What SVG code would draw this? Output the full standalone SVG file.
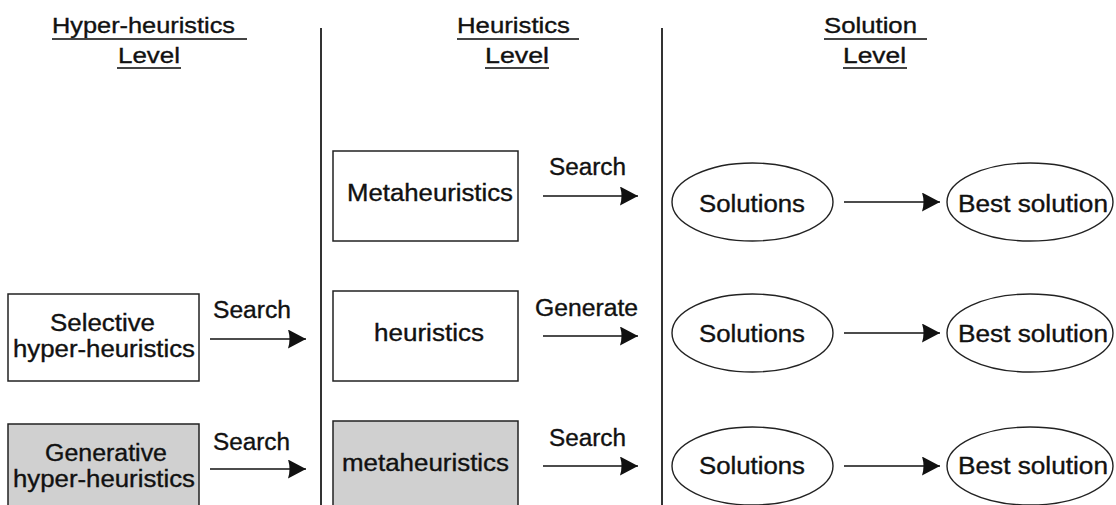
<svg xmlns="http://www.w3.org/2000/svg" width="1116" height="505" viewBox="0 0 1116 505">
<style>
text{font-family:"Liberation Sans",Arial,sans-serif;font-size:23px;fill:#111;stroke:#111;stroke-width:0.35}
.h{font-size:22px}
.box{fill:#fff;stroke:#222;stroke-width:1.5}
.gray{fill:#d0d0d0}
.ell{fill:#fff;stroke:#222;stroke-width:1.4}
.arr{stroke:#111;stroke-width:1.6;fill:none;marker-end:url(#ah)}
.ul{stroke:#444;stroke-width:2}
.sep{stroke:#333;stroke-width:2}
</style>
<defs>
<marker id="ah" viewBox="0 0 18 19" refX="18" refY="9.5" markerWidth="18" markerHeight="19" markerUnits="userSpaceOnUse" orient="auto">
<path d="M0,0 L18,9.5 L0,19 Q3,9.5 0,0 Z" fill="#111"/>
</marker>
</defs>
<rect width="1116" height="505" fill="#fff"/>
<g id="headers">
<text class="h" x="52" y="33" textLength="183" lengthAdjust="spacingAndGlyphs">Hyper-heuristics</text>
<text class="h" x="118" y="63" textLength="62" lengthAdjust="spacingAndGlyphs">Level</text>
<text class="h" x="457" y="33" textLength="113" lengthAdjust="spacingAndGlyphs">Heuristics</text>
<text class="h" x="485" y="63" textLength="64" lengthAdjust="spacingAndGlyphs">Level</text>
<text class="h" x="824" y="33" textLength="93" lengthAdjust="spacingAndGlyphs">Solution</text>
<text class="h" x="843" y="63" textLength="63" lengthAdjust="spacingAndGlyphs">Level</text>
<line class="ul" x1="52" y1="39" x2="247" y2="39"/>
<line class="ul" x1="117" y1="68" x2="181" y2="68"/>
<line class="ul" x1="457" y1="39" x2="579" y2="39"/>
<line class="ul" x1="485" y1="68" x2="549" y2="68"/>
<line class="ul" x1="824" y1="39" x2="927" y2="39"/>
<line class="ul" x1="843" y1="68" x2="907" y2="68"/>
</g>
<g id="separators">
<line class="sep" x1="321" y1="28" x2="321" y2="505"/>
<line class="sep" x1="662" y1="28" x2="662" y2="505"/>
</g>
<g id="selective">
<rect class="box" x="8" y="294" width="191" height="87"/>
<text x="50" y="331" textLength="105" lengthAdjust="spacingAndGlyphs">Selective</text>
<text x="13" y="357" textLength="182" lengthAdjust="spacingAndGlyphs">hyper-heuristics</text>
</g>
<g id="generative">
<rect class="box gray" x="8" y="424" width="191" height="90"/>
<text x="45" y="461" textLength="122" lengthAdjust="spacingAndGlyphs">Generative</text>
<text x="13" y="487" textLength="182" lengthAdjust="spacingAndGlyphs">hyper-heuristics</text>
</g>
<g id="Metaheuristics">
<rect class="box" x="333" y="151" width="185" height="90"/>
<text x="347" y="201" textLength="166" lengthAdjust="spacingAndGlyphs">Metaheuristics</text>
</g>
<g id="heuristics">
<rect class="box" x="333" y="291" width="185" height="90"/>
<text x="374" y="341" textLength="110" lengthAdjust="spacingAndGlyphs">heuristics</text>
</g>
<g id="metaheuristics-gen">
<rect class="box gray" x="333" y="421" width="185" height="95"/>
<text x="342" y="471" textLength="167" lengthAdjust="spacingAndGlyphs">metaheuristics</text>
</g>
<g id="solutions1">
<ellipse class="ell" cx="752.5" cy="202" rx="80.5" ry="39"/>
<text x="699" y="212" textLength="106" lengthAdjust="spacingAndGlyphs">Solutions</text>
</g>
<g id="best1">
<ellipse class="ell" cx="1030" cy="202" rx="83" ry="39"/>
<text x="958" y="212" textLength="150" lengthAdjust="spacingAndGlyphs">Best solution</text>
</g>
<g id="solutions2">
<ellipse class="ell" cx="752.5" cy="333" rx="80.5" ry="39"/>
<text x="699" y="342" textLength="106" lengthAdjust="spacingAndGlyphs">Solutions</text>
</g>
<g id="best2">
<ellipse class="ell" cx="1030" cy="333" rx="83" ry="39"/>
<text x="958" y="342" textLength="150" lengthAdjust="spacingAndGlyphs">Best solution</text>
</g>
<g id="solutions3">
<ellipse class="ell" cx="752.5" cy="466" rx="80.5" ry="39"/>
<text x="699" y="474" textLength="106" lengthAdjust="spacingAndGlyphs">Solutions</text>
</g>
<g id="best3">
<ellipse class="ell" cx="1030" cy="466" rx="83" ry="39"/>
<text x="958" y="474" textLength="150" lengthAdjust="spacingAndGlyphs">Best solution</text>
</g>
<g id="connectors">
<line class="arr" x1="543" y1="196" x2="638" y2="196"/>
<text x="549" y="175" textLength="77" lengthAdjust="spacingAndGlyphs">Search</text>
<line class="arr" x1="210" y1="339" x2="306" y2="339"/>
<text x="213" y="318" textLength="78" lengthAdjust="spacingAndGlyphs">Search</text>
<line class="arr" x1="543" y1="336" x2="638" y2="336"/>
<text x="535" y="316" textLength="103" lengthAdjust="spacingAndGlyphs">Generate</text>
<line class="arr" x1="210" y1="469" x2="306" y2="469"/>
<text x="213" y="450" textLength="77" lengthAdjust="spacingAndGlyphs">Search</text>
<line class="arr" x1="543" y1="466" x2="638" y2="466"/>
<text x="549" y="446" textLength="77" lengthAdjust="spacingAndGlyphs">Search</text>
<line class="arr" x1="844" y1="202" x2="940" y2="202"/>
<line class="arr" x1="844" y1="333" x2="940" y2="333"/>
<line class="arr" x1="844" y1="466" x2="940" y2="466"/>
</g>
</svg>
